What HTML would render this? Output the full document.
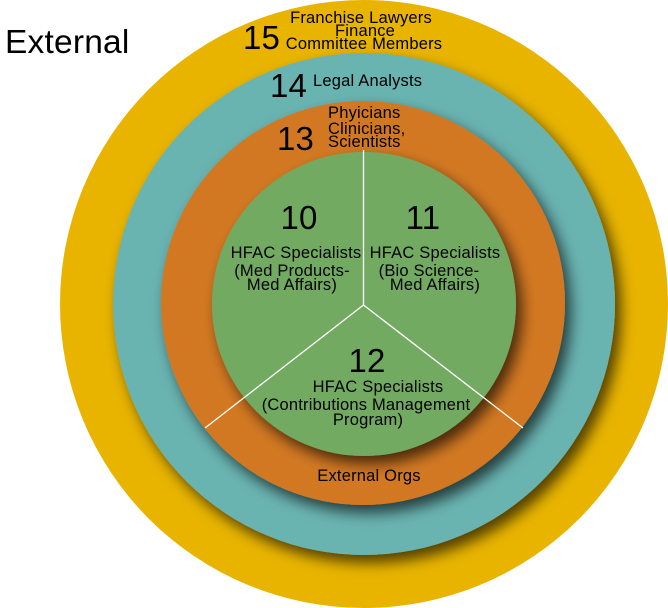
<!DOCTYPE html>
<html><head><style>body{margin:0;background:#fff}svg{display:block}</style></head><body>
<svg width="668" height="608" viewBox="0 0 668 608" font-family="Liberation Sans, Arial, sans-serif">
<defs>
<filter id="sh" x="-20%" y="-20%" width="150%" height="150%"><feDropShadow dx="6" dy="8" stdDeviation="7" flood-color="#000" flood-opacity="0.65"/></filter>
</defs>
<circle cx="364" cy="304" r="304" fill="#E8B400"/>
<circle cx="364" cy="304" r="251" fill="#69B3B1" filter="url(#sh)"/>
<circle cx="363" cy="303" r="202" fill="#D27822" filter="url(#sh)"/>
<circle cx="364" cy="304" r="152" fill="#72AA62" filter="url(#sh)"/>
<g stroke="#fff" stroke-width="1.3">
<line x1="363.5" y1="150" x2="363.5" y2="305"/>
<line x1="363.5" y1="305" x2="205" y2="428"/>
<line x1="363.5" y1="305" x2="523" y2="428"/>
</g>
<g fill="#000" letter-spacing="0.2">
<text x="5" y="53" font-size="33.5">External</text>
<text x="243" y="49" font-size="33">15</text>
<text x="361" y="23" font-size="16.5" text-anchor="middle">Franchise Lawyers</text>
<text x="365" y="36" font-size="16.5" text-anchor="middle">Finance</text>
<text x="364" y="49" font-size="16.5" text-anchor="middle">Committee Members</text>
<text x="270" y="97" font-size="33">14</text>
<text x="313" y="86" font-size="16.5">Legal Analysts</text>
<text x="277" y="150" font-size="33">13</text>
<text x="328" y="118" font-size="16.5">Phyicians</text>
<text x="328" y="134" font-size="16.5">Clinicians,</text>
<text x="328" y="147" font-size="16.5">Scientists</text>
<text x="299" y="229" font-size="33" text-anchor="middle">10</text>
<text x="296" y="258" font-size="16.5" text-anchor="middle">HFAC Specialists</text>
<text x="292" y="276" font-size="16.5" text-anchor="middle">(Med Products-</text>
<text x="292" y="290" font-size="16.5" text-anchor="middle">Med Affairs)</text>
<text x="423" y="229" font-size="33" text-anchor="middle">11</text>
<text x="435" y="258" font-size="16.5" text-anchor="middle">HFAC Specialists</text>
<text x="429" y="276" font-size="16.5" text-anchor="middle">(Bio Science-</text>
<text x="435" y="290" font-size="16.5" text-anchor="middle">Med Affairs)</text>
<text x="367" y="372" font-size="33" text-anchor="middle">12</text>
<text x="378" y="392" font-size="16.5" text-anchor="middle">HFAC Specialists</text>
<text x="366" y="410" font-size="16.5" text-anchor="middle">(Contributions Management</text>
<text x="368" y="425" font-size="16.5" text-anchor="middle">Program)</text>
<text x="369" y="481" font-size="16.5" text-anchor="middle">External Orgs</text>
</g>
</svg>
</body></html>
